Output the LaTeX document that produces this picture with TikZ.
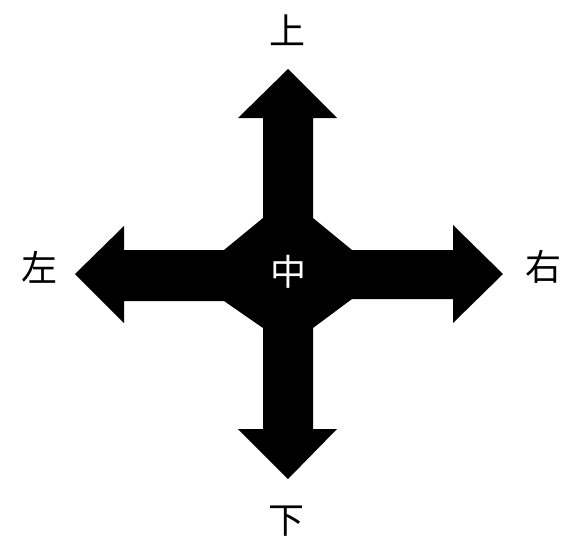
\documentclass[tikz,border=0pt]{standalone}
\usepackage{fontspec}
\newfontfamily\cjk{Noto Sans CJK SC}
\begin{document}
\begin{tikzpicture}[x=1pt, y=-1pt,
	dirlabel/.style={inner sep=0pt, font=\cjk\fontsize{36}{36}\selectfont}]
	\useasboundingbox (0,0) rectangle (578,549);
	%cross of arrows
	\fill[black] (288,69) -- (337,118) -- (313,118) -- (313,218)
		-- (352,250) -- (453,250) -- (453,225) -- (503,274) -- (453,323) -- (453,299) -- (352,299)
		-- (313,328) -- (313,429) -- (337,429) -- (288,479) -- (238,429) -- (263,429) -- (263,328)
		-- (224,301) -- (124,301) -- (124,323) -- (75,274) -- (124,226) -- (124,250) -- (224,250)
		-- (263,218) -- (263,118) -- (238,118) -- cycle;
	
	%labels
	\node[dirlabel, text=white] (mid) at (288,272){中};
	\node[dirlabel] (up) at (287,30){上};
	\node[dirlabel] (down) at (286,521){下};
	\node[dirlabel] (left) at (39,267){左};
	\node[dirlabel] (right) at (543,267){右};
\end{tikzpicture}
\end{document}
